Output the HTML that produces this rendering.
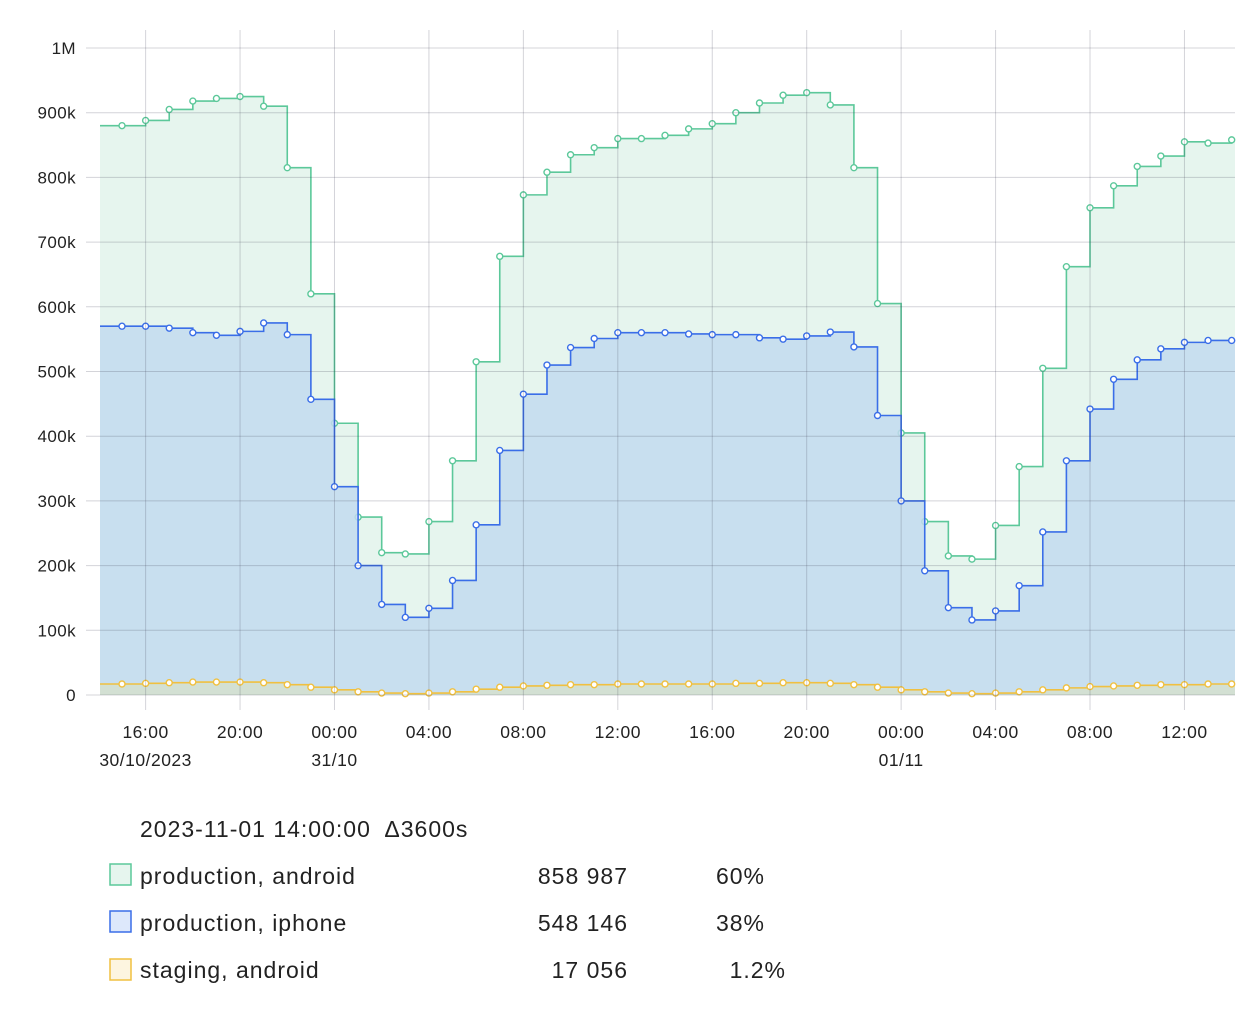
<!DOCTYPE html>
<html><head><meta charset="utf-8"><style>
body{margin:0;background:#fff;font-family:"Liberation Sans",sans-serif;}
svg text{font-family:"Liberation Sans",sans-serif;}
</style></head><body>
<svg id="chart" width="1258" height="1022" xmlns="http://www.w3.org/2000/svg">
<g id="series"></g>
<g id="grid"></g>
<g id="axes"></g>
<g id="legend" font-size="23" fill="#222" letter-spacing="1">
<text x="140" y="837" xml:space="preserve">2023-11-01 14:00:00  Δ3600s</text>
<rect x="110" y="864" width="21" height="21" fill="#e6f5ee" stroke="#5cc89a" stroke-width="1.5"/>
<text x="140" y="884">production, android</text>
<text x="628" y="884" text-anchor="end">858 987</text>
<text x="765" y="884" text-anchor="end">60%</text>
<rect x="110" y="911" width="21" height="21" fill="#dde8fb" stroke="#3a6ee8" stroke-width="1.5"/>
<text x="140" y="931">production, iphone</text>
<text x="628" y="931" text-anchor="end">548 146</text>
<text x="765" y="931" text-anchor="end">38%</text>
<rect x="110" y="959" width="21" height="21" fill="#fdf5e0" stroke="#f0c040" stroke-width="1.5"/>
<text x="140" y="978">staging, android</text>
<text x="628" y="978" text-anchor="end">17 056</text>
<text x="786" y="978" text-anchor="end">1.2%</text>
</g>
</svg>
<script>
// values in thousands, hourly from 15:00 30/10 to 14:00 01/11
const android = [880,888,905,918,922,925,910,815,620,420,275,220,218,268,362,515,678,773,808,835,846,860,860,865,875,883,900,915,927,931,912,815,605,405,268,215,210,262,353,505,662,753,787,817,833,855,853,858];
const iphone = [570,570,567,560,556,562,575,557,457,322,200,140,120,134,177,263,378,465,510,537,551,560,560,560,558,557,557,552,550,555,561,538,432,300,192,135,116,130,169,252,362,442,488,518,535,545,548,548];
const staging = [17,18,19,20,20,20,19,16,12,8,5,3,2,3,5,9,12,14,15,16,16,17,17,17,17,17,18,18,19,19,18,16,12,8,5,3,2,3,5,8,11,13,14,15,16,16,17,17];
const yTicks = [0,100,200,300,400,500,600,700,800,900,1000];
const yTickLabels = ["0","100k","200k","300k","400k","500k","600k","700k","800k","900k","1M"];
const xTickHours = [1,5,9,13,17,21,25,29,33,37,41,45];
const xTickLabels = ["16:00","20:00","00:00","04:00","08:00","12:00","16:00","20:00","00:00","04:00","08:00","12:00"];
const xTickDates = ["30/10/2023","","31/10","","","","","","01/11","","",""];

const NS="http://www.w3.org/2000/svg";
const X0=100,X1=1235,Y0=695,Y1=48;
const x=i=>122+i*23.61;
const y=v=>Y0-(v/1000)*(Y0-Y1);
function mk(tag,attrs,parent){const e=document.createElementNS(NS,tag);for(const k in attrs)e.setAttribute(k,attrs[k]);parent.appendChild(e);return e;}
const grid=document.getElementById('grid'),axes=document.getElementById('axes'),ser=document.getElementById('series');
yTicks.forEach((t,i)=>{
  const l=mk('line',{x1:86,x2:X1,y1:y(t),y2:y(t),stroke:'rgba(60,60,80,0.22)','stroke-width':1},grid);
  
  
  const tx=mk('text',{x:76,y:y(t)+6,'text-anchor':'end','font-size':17,fill:'#222','letter-spacing':0.4},axes);
  tx.textContent=yTickLabels[i];
  
  
});
xTickHours.forEach((h,i)=>{
  const xx=x(h);
  const l=mk('line',{x1:xx,x2:xx,y1:30,y2:710,stroke:'rgba(60,60,80,0.22)','stroke-width':1},grid);
  
  
  const tx=mk('text',{x:xx,y:738,'text-anchor':'middle','font-size':17.5,fill:'#222','letter-spacing':0.5},axes);
  tx.textContent=xTickLabels[i];
  
  
  if(xTickDates[i]){
    const d=mk('text',{x:xx,y:766,'text-anchor':'middle','font-size':17.5,fill:'#222','letter-spacing':0.5},axes);
    d.textContent=xTickDates[i];
    
    
  }
});
function stepPath(vals){
  let d=`M${X0},${y(vals[0])}`;
  vals.forEach((v,i)=>{d+=` L${x(i)},${y(i?vals[i-1]:v)} L${x(i)},${y(v)}`;});
  d+=` L${X1},${y(vals[vals.length-1])}`;
  return d;
}
function drawSeries(vals,stroke,fill,opacity,name){
  const g=mk('g',{},ser);
  
  
  const line=stepPath(vals);
  const a=mk('path',{d:line+` L${X1},${Y0} L${X0},${Y0} Z`,fill:fill,'fill-opacity':opacity,stroke:'none'},g);
  
  
  const p=mk('path',{d:line,fill:'none',stroke:stroke,'stroke-width':1.6},g);
  
  
  vals.forEach((v,i)=>{
    const c=mk('circle',{cx:x(i),cy:y(v),r:3,fill:'#fff',stroke:stroke,'stroke-width':1.4},g);
    
    
  });
}
drawSeries(android,'#5cc89a','#e6f5ee',1,'production-android');
drawSeries(iphone,'#3a6ee8','#c2dbee',0.85,'production-iphone');
drawSeries(staging,'#f0c040','#d6e0cc',0.8,'staging-android');
</script>
</body></html>
